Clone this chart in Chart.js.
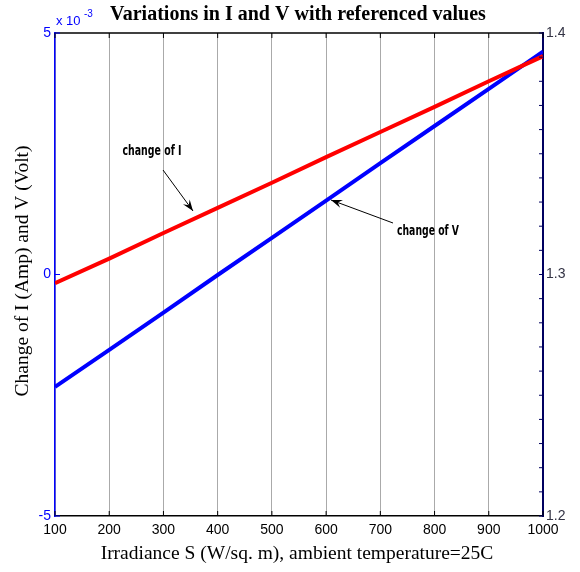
<!DOCTYPE html>
<html>
<head>
<meta charset="utf-8">
<script src="https://cdn.jsdelivr.net/npm/chart.js@4.4.1/dist/chart.umd.min.js"></script>
<style>
  html, body { margin: 0; padding: 0; background: #fff; }
  #wrap { width: 580px; height: 572px; }
</style>
</head>
<body>
<div id="wrap"><canvas id="chart" width="580" height="572"></canvas></div>
<script>
// data
const irradiance = [100, 200, 300, 400, 500, 600, 700, 800, 900, 1000];
const changeI = [-0.00018, 0.00033, 0.00086, 0.00138, 0.0019, 0.00243, 0.00295, 0.00347, 0.004, 0.00452];
const changeV = [1.2535, 1.2688, 1.2842, 1.2998, 1.3152, 1.3306, 1.3461, 1.3615, 1.3769, 1.3923];
const leftTicks = [-0.005, 0, 0.005];
const rightLabels = [1.2, 1.3, 1.4];

const serif = '"Liberation Serif", "Times New Roman", serif';
const sans = '"Liberation Sans", Arial, sans-serif';

// text, arrows and inward tick marks
const decor = {
  id: "decor",
  afterDraw(chart) {
    const ctx = chart.ctx;
    const a = chart.chartArea;
    const x = chart.scales.x, yl = chart.scales.yL, yr = chart.scales.yR;
    ctx.save();

    // top frame line
    ctx.strokeStyle = "#000";
    ctx.lineWidth = 1.5;
    ctx.beginPath();
    ctx.moveTo(a.left, a.top);
    ctx.lineTo(a.right, a.top);
    ctx.stroke();

    // x ticks, pointing in, top and bottom
    ctx.lineWidth = 1;
    irradiance.forEach(v => {
      const px = x.getPixelForValue(v);
      ctx.beginPath();
      ctx.moveTo(px, a.bottom); ctx.lineTo(px, a.bottom - 5);
      ctx.moveTo(px, a.top); ctx.lineTo(px, a.top + 5);
      ctx.stroke();
    });

    // left ticks
    ctx.strokeStyle = "#0000ff";
    leftTicks.forEach(v => {
      const py = yl.getPixelForValue(v);
      ctx.beginPath();
      ctx.moveTo(a.left, py); ctx.lineTo(a.left + 5, py);
      ctx.stroke();
    });

    // right ticks every 0.01
    ctx.strokeStyle = "#000060";
    yr.ticks.forEach(t => {
      const py = yr.getPixelForValue(t.value);
      ctx.beginPath();
      ctx.moveTo(a.right, py); ctx.lineTo(a.right - 4, py);
      ctx.stroke();
    });

    // title
    ctx.fillStyle = "#000";
    ctx.textAlign = "center";
    ctx.textBaseline = "middle";
    ctx.font = "bold 20px " + serif;
    ctx.fillText("Variations in I and V with referenced values", 298, 15);

    // x axis title
    ctx.font = "19.5px " + serif;
    ctx.fillText("Irradiance S (W/sq. m), ambient temperature=25C", 297, 554);

    // y axis title
    ctx.save();
    ctx.translate(23, 271);
    ctx.rotate(-Math.PI / 2);
    ctx.fillText("Change of I (Amp) and V (Volt)", 0, 0);
    ctx.restore();

    // exponent
    ctx.fillStyle = "#0000ff";
    ctx.textAlign = "left";
    ctx.font = "13px " + sans;
    ctx.fillText("x 10", 56, 21);
    ctx.font = "10px " + sans;
    ctx.fillText("-3", 84, 14);

    // annotations
    function label(text, cx, cy, w) {
      ctx.save();
      ctx.font = "bold 14px \"Liberation Sans Narrow\", \"DejaVu Sans Condensed\", sans-serif";
      const m = ctx.measureText(text).width;
      ctx.translate(cx, cy);
      ctx.scale(w / m, 1);
      ctx.fillStyle = "#000";
      ctx.textAlign = "center";
      ctx.fillText(text, 0, 0);
      ctx.restore();
    }
    label("change of I", 152, 151, 59);
    label("change of V", 428, 231, 62);

    function arrow(x0, y0, x1, y1) {
      ctx.strokeStyle = "#000";
      ctx.fillStyle = "#000";
      ctx.lineWidth = 1;
      ctx.beginPath();
      ctx.moveTo(x0, y0); ctx.lineTo(x1, y1);
      ctx.stroke();
      const ang = Math.atan2(y1 - y0, x1 - x0);
      const len = 12, half = 0.35;
      ctx.beginPath();
      ctx.moveTo(x1, y1);
      ctx.lineTo(x1 - len * Math.cos(ang - half), y1 - len * Math.sin(ang - half));
      ctx.lineTo(x1 - len * 0.6 * Math.cos(ang), y1 - len * 0.6 * Math.sin(ang));
      ctx.lineTo(x1 - len * Math.cos(ang + half), y1 - len * Math.sin(ang + half));
      ctx.closePath();
      ctx.fill();
    }
    arrow(163, 170, 193, 211);
    arrow(393, 223, 331, 200);

    ctx.restore();
  }
};

new Chart(document.getElementById("chart"), {
  type: "line",
  data: {
    datasets: [
      {
        label: "change of I",
        data: irradiance.map((s, i) => ({ x: s, y: changeI[i] })),
        borderColor: "#ff0000",
        borderWidth: 4,
        pointRadius: 0,
        yAxisID: "yL"
      },
      {
        label: "change of V",
        data: irradiance.map((s, i) => ({ x: s, y: changeV[i] })),
        borderColor: "#0000ff",
        borderWidth: 4,
        pointRadius: 0,
        yAxisID: "yR"
      }
    ]
  },
  options: {
    responsive: false,
    animation: false,
    layout: { padding: { top: 33, left: 0, right: 0, bottom: 0 } },
    plugins: { legend: { display: false }, tooltip: { enabled: false } },
    scales: {
      x: {
        type: "linear",
        min: 100, max: 1000,
        afterFit: s => { s.height = 56; },
        ticks: {
          stepSize: 100, color: "#000", font: { family: sans, size: 14 }, padding: 6, maxRotation: 0,
          callback: v => String(v)
        },
        grid: { color: "#aaaaaa", lineWidth: 1, drawTicks: false },
        border: { color: "#000", width: 1.5 }
      },
      yL: {
        type: "linear",
        position: "left",
        min: -0.005, max: 0.005,
        afterFit: s => { s.width = 55; },
        afterBuildTicks: s => { s.ticks = leftTicks.map(v => ({ value: v })); },
        ticks: {
          color: "#0000ff", font: { family: sans, size: 14 }, padding: 4,
          callback: v => String(Math.round(v * 1000))
        },
        grid: { display: false, drawTicks: false },
        border: { color: "#0000ff", width: 1.5 }
      },
      yR: {
        type: "linear",
        position: "right",
        min: 1.2, max: 1.4,
        afterFit: s => { s.width = 37; },
        ticks: {
          stepSize: 0.01, autoSkip: false, color: "#333344", font: { family: sans, size: 14 }, padding: 3,
          callback: v => rightLabels.some(r => Math.abs(r - v) < 1e-6) ? v.toFixed(1) : ""
        },
        grid: { display: false, drawTicks: false },
        border: { color: "#000060", width: 2 }
      }
    }
  },
  plugins: [decor]
});
</script>
</body>
</html>
